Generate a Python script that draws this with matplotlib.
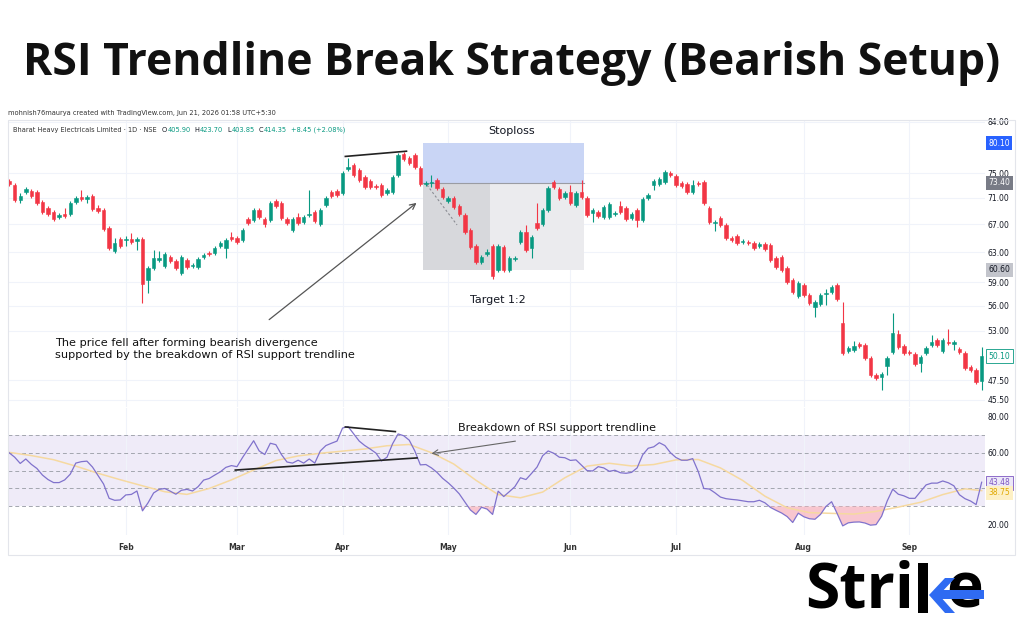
import numpy as np
import matplotlib.pyplot as plt
from matplotlib.patches import Rectangle, Polygon

# ---- price candles (Jan .. Sep) ----
opens = [73.69, 73.04, 70.67, 71.93, 72.08, 71.93, 70.36, 69.44, 68.83, 68.08,
         68.53, 68.53, 70.36, 71.14, 70.83, 71.29, 69.44, 69.13, 66.45, 63.16,
         64.86, 64.71, 64.86, 64.57, 64.86, 59.26, 60.85, 61.93, 61.12, 62.34,
         61.79, 60.18, 61.93, 61.12, 60.98, 62.34, 62.89, 62.89, 63.87, 63.59,
         65.14, 65.00, 64.71, 67.78, 67.63, 69.13, 67.78, 67.63, 70.52, 70.21,
         67.78, 66.15, 68.08, 67.33, 68.38, 68.83, 67.04, 69.90, 71.93, 72.08,
         71.77, 75.67, 76.33, 75.50, 74.34, 73.69, 72.88, 73.04, 71.77, 71.93,
         74.67, 78.20, 77.52, 78.03, 75.83, 73.20, 73.37, 73.85, 72.40, 70.52,
         70.98, 69.75, 68.38, 66.15, 63.87, 61.66, 62.75, 63.87, 60.58, 63.73,
         60.58, 62.07, 64.43, 65.86, 63.59, 67.19, 67.04, 69.13, 73.53, 72.40,
         71.14, 71.93, 69.90, 71.93, 70.98, 68.68, 68.83, 68.08, 68.08, 68.53,
         69.75, 69.44, 67.93, 69.13, 67.63, 70.98, 73.04, 73.20, 73.53, 75.00,
         74.51, 73.37, 73.20, 71.93, 73.37, 73.53, 69.44, 67.19, 67.93, 66.89,
         65.00, 65.29, 64.43, 64.43, 64.29, 63.87, 64.15, 64.01, 62.20, 62.34,
         60.85, 59.26, 57.20, 58.61, 57.33, 55.84, 56.20, 57.46, 57.71, 58.61,
         53.91, 50.68, 50.79, 51.46, 51.35, 49.91, 48.07, 47.86, 49.03, 50.57,
         52.62, 51.24, 50.57, 50.35, 49.36, 50.46, 51.35, 51.92, 50.68, 51.69,
         51.46, 50.90, 50.46, 48.92, 48.60, 47.45]
highs = [74.01, 73.37, 71.77, 72.72, 72.40, 72.24, 70.67, 69.75, 69.13, 68.68,
         69.44, 70.52, 71.29, 72.24, 71.45, 71.61, 69.90, 69.44, 66.74, 65.00,
         65.14, 65.29, 65.72, 65.14, 65.14, 61.12, 63.30, 63.16, 63.03, 62.61,
         62.07, 62.61, 62.20, 61.52, 62.34, 62.89, 63.16, 63.87, 64.57, 65.00,
         65.86, 65.29, 66.45, 68.08, 69.44, 69.44, 68.08, 70.52, 70.83, 70.52,
         68.08, 68.08, 68.68, 68.38, 72.24, 69.13, 69.44, 71.29, 72.24, 72.40,
         75.33, 77.52, 76.67, 75.83, 74.67, 74.01, 73.20, 73.37, 72.56, 74.67,
         78.38, 78.55, 77.86, 78.38, 76.16, 73.69, 74.67, 74.18, 72.72, 71.29,
         71.29, 70.05, 68.68, 66.45, 64.15, 62.61, 63.44, 64.15, 64.15, 64.01,
         62.47, 62.47, 66.15, 66.89, 65.43, 70.21, 69.44, 72.88, 73.85, 72.72,
         72.08, 73.04, 72.08, 73.85, 71.29, 69.44, 69.13, 69.90, 70.36, 68.98,
         70.52, 69.75, 68.83, 69.44, 71.14, 71.77, 74.01, 74.34, 75.50, 75.33,
         74.84, 73.69, 73.53, 73.85, 73.69, 73.85, 69.75, 67.63, 68.23, 67.19,
         65.29, 65.57, 64.86, 64.71, 64.57, 64.43, 64.43, 64.29, 62.47, 62.61,
         61.12, 59.52, 59.13, 58.87, 57.59, 56.70, 57.59, 58.10, 58.61, 58.87,
         56.45, 51.24, 51.81, 51.69, 51.58, 50.13, 48.28, 48.39, 50.13, 55.10,
         53.08, 51.46, 50.79, 50.57, 50.24, 51.24, 52.50, 52.15, 52.15, 53.20,
         51.92, 51.13, 50.68, 49.14, 48.82, 51.13]
lows = [72.88, 70.36, 70.21, 71.61, 70.98, 69.90, 68.53, 68.23, 67.48, 67.78,
        67.93, 68.23, 70.05, 70.52, 70.21, 68.98, 68.68, 66.01, 63.30, 62.89,
        63.59, 63.87, 64.15, 63.30, 56.33, 57.59, 60.58, 61.66, 60.85, 61.52,
        60.58, 59.91, 60.71, 60.85, 60.71, 62.07, 62.47, 62.61, 63.59, 62.20,
        64.57, 64.15, 64.43, 66.89, 67.33, 67.78, 66.59, 67.33, 69.44, 67.63,
        66.89, 65.86, 66.89, 67.04, 68.08, 67.19, 66.74, 69.59, 70.98, 71.14,
        71.45, 75.33, 74.34, 73.53, 72.40, 72.40, 72.40, 71.14, 71.45, 71.61,
        74.34, 77.01, 76.33, 75.67, 72.88, 72.88, 72.72, 72.24, 70.83, 70.21,
        69.28, 68.23, 65.57, 63.44, 61.39, 61.39, 62.47, 59.39, 60.31, 60.31,
        60.31, 61.79, 64.15, 63.03, 62.20, 66.15, 66.74, 68.83, 72.40, 70.67,
        70.83, 69.90, 69.59, 70.83, 68.08, 67.33, 67.93, 67.78, 67.78, 68.23,
        68.53, 67.48, 67.63, 66.59, 67.33, 70.67, 72.24, 72.88, 73.20, 74.34,
        72.72, 72.56, 71.61, 71.61, 72.88, 69.90, 67.04, 66.01, 66.59, 64.71,
        64.43, 64.01, 64.15, 64.01, 63.30, 63.59, 63.16, 61.66, 60.71, 60.31,
        58.74, 57.46, 56.95, 57.08, 56.08, 54.62, 55.96, 56.08, 57.46, 56.58,
        50.24, 50.46, 50.57, 51.02, 49.69, 47.86, 47.55, 46.51, 48.07, 50.35,
        50.90, 50.24, 50.24, 49.03, 48.39, 50.24, 51.13, 51.13, 50.46, 51.35,
        50.79, 50.35, 48.60, 48.39, 47.13, 46.51]
closes = [73.20, 70.67, 71.29, 72.40, 71.29, 70.21, 68.83, 68.53, 67.78, 68.38,
          68.23, 70.21, 70.98, 70.83, 71.14, 69.28, 68.98, 66.30, 63.59, 64.29,
          63.87, 64.86, 64.43, 64.86, 58.74, 60.85, 62.20, 62.20, 62.75, 61.79,
          60.85, 62.34, 60.98, 61.25, 62.07, 62.61, 62.75, 63.59, 64.29, 64.71,
          64.86, 64.43, 66.15, 67.19, 69.13, 68.08, 67.04, 70.21, 69.75, 67.93,
          67.19, 67.78, 67.19, 68.08, 68.53, 67.48, 69.13, 70.98, 71.29, 71.45,
          75.00, 76.00, 74.67, 73.85, 72.72, 72.72, 72.72, 71.45, 72.24, 74.34,
          78.03, 77.35, 76.67, 76.00, 73.20, 73.37, 73.53, 72.56, 71.14, 70.98,
          69.59, 68.53, 65.86, 63.73, 61.66, 62.34, 63.03, 59.78, 63.87, 60.58,
          62.20, 62.20, 65.86, 63.30, 65.14, 66.45, 69.13, 72.56, 72.72, 70.98,
          71.77, 70.21, 71.77, 71.14, 68.38, 69.13, 68.23, 69.59, 70.05, 68.68,
          68.83, 67.78, 68.53, 67.63, 70.83, 71.45, 73.69, 74.01, 75.17, 74.67,
          73.04, 72.88, 71.93, 73.04, 73.20, 70.21, 67.33, 67.33, 66.89, 65.00,
          64.71, 64.29, 64.57, 64.29, 63.59, 64.15, 63.44, 61.93, 60.98, 60.58,
          59.00, 57.71, 58.87, 57.33, 56.33, 56.45, 57.33, 57.59, 58.36, 56.83,
          50.46, 51.02, 51.24, 51.24, 49.91, 48.07, 47.76, 48.18, 49.91, 52.73,
          51.13, 50.46, 50.46, 49.25, 50.02, 51.02, 51.69, 51.35, 51.92, 51.58,
          51.69, 50.57, 48.82, 48.60, 47.34, 50.10]

# ---- RSI (14) and its moving average ----
rsi = [60, 57.5, 54, 56.5, 53.5, 51.2, 47.5, 45, 43.3, 43.3,
       44.8, 48, 54.2, 55, 55.3, 52, 47.3, 42.5, 34.5, 33.4,
       33.6, 36.4, 36.7, 38.6, 27.5, 32, 37.5, 39.5, 40, 38.5,
       36.8, 39, 39.5, 38.6, 41, 44.7, 45.6, 47.5, 49.3, 51.8,
       52.8, 52.2, 57.3, 62, 66.7, 61, 59, 65.3, 64.5, 59,
       54.8, 54.2, 55.8, 54.2, 56.5, 54.2, 61, 64, 65.3, 66.5,
       73.8, 74.6, 70.5, 66.5, 64, 62, 59.8, 55.4, 57.5, 65,
       70.5, 69.5, 67, 61, 53.2, 53.4, 51.5, 49, 45.7, 43.2,
       40.3, 37, 32.5, 28, 25.5, 29.5, 28.5, 25.5, 38.5, 35.5,
       38.2, 41, 46, 45, 48.4, 52, 58.3, 61, 59.7, 57.5,
       57.2, 55.7, 56, 53, 50, 49.8, 52.2, 51.5, 49.6, 50.2,
       48.8, 48.5, 49, 51.5, 58.8, 62.5, 63.3, 65.6, 64, 60,
       57.3, 55.8, 55.8, 56.7, 49.5, 40, 39.7, 37.6, 35.2, 34.3,
       33.9, 33.6, 33.1, 32.6, 32.6, 33.4, 32, 29.4, 27.8, 26.3,
       24.3, 21, 26.2, 24.2, 23.1, 22.8, 25.5, 30, 32.6, 26,
       19.1, 20.8, 21.2, 21.3, 20.7, 19.5, 19.8, 24.5, 33, 39.6,
       36.8, 35.9, 34.5, 34.5, 38.3, 42, 43, 43, 44.2, 43.2,
       41.5, 36.5, 34.3, 33, 31, 43.5]
ma_pos = [0, 4, 8, 12, 16, 20, 24, 28, 32, 36, 40, 44, 48, 52, 56, 60, 64, 68,
          72, 76, 80, 84, 88, 92, 96, 100, 104, 108, 112, 116, 120, 124, 128,
          132, 136, 140, 144, 148, 152, 156, 160, 164, 168, 172, 175]
ma = [60.2, 58.4, 56.1, 52.5, 48.5, 44.9, 41.5, 38.2, 36.7, 40, 44.8, 50.3,
      55.6, 58.2, 59.7, 60.9, 62.1, 63.9, 64.6, 60, 53.7, 44.6, 36.6, 34.8,
      38, 46, 52.5, 54.1, 52.6, 53.4, 56, 56.2, 51.5, 44.5, 35.7, 29.2, 26.5,
      26.1, 25.7, 27.2, 29.6, 32.3, 36.6, 39.8, 38.8]

months = ['Feb', 'Mar', 'Apr', 'May', 'Jun', 'Jul', 'Aug', 'Sep']
month_pos = [21, 41, 60, 79, 101, 120, 143, 162]
price_ticks = [84, 75, 71, 67, 63, 59, 56, 53, 47.5, 45.5]
rsi_ticks = [80, 60, 20]

W, H = 1024, 640
UP, DN = '#089981', '#f23645'
TXT = '#131722'


def fx(px):
    return px / W


def fy(py):
    return 1 - py / H


fig = plt.figure(figsize=(10.24, 6.4), dpi=100)
fig.patch.set_facecolor('white')
renderer = fig.canvas.get_renderer()

# title
fig.text(0.5, fy(63), 'RSI Trendline Break Strategy (Bearish Setup)', ha='center',
         va='center', fontsize=32, fontweight='bold', family='Open Sans', color='#111111')

# chart frame
fig.add_artist(Rectangle((fx(8), fy(555)), fx(1015) - fx(8), fy(120) - fy(555),
                         transform=fig.transFigure, fill=False, ec='#e3e5eb', lw=0.8))

# header lines
fig.text(fx(8), fy(113), 'mohnish76maurya created with TradingView.com, Jun 21, 2026 01:58 UTC+5:30',
         fontsize=4.8, color='#333333', va='center')
header = [('Bharat Heavy Electricals Limited \u00b7 1D \u00b7 NSE', '#333333', 5),
          ('O', TXT, 0.5), ('405.90', UP, 4), ('H', TXT, 0.5), ('423.70', UP, 4),
          ('L', TXT, 0.5), ('403.85', UP, 4), ('C', TXT, 0.5), ('414.35', UP, 4),
          ('+8.45 (+2.08%)', UP, 0)]
cur = 13
for s, col, gap in header:
    t = fig.text(fx(cur), fy(130), s, fontsize=4.8, color=col, va='center')
    cur = t.get_window_extent(renderer).x1 + gap

# ---- price pane ----
ax = fig.add_axes([fx(8), fy(407), fx(985) - fx(8), fy(120) - fy(407)])
ax.set_yscale('log')
ax.set_ylim(44.8, 84.3)
ax.set_xlim(-0.2, 175.6)

o = np.array(opens)
h = np.array(highs)
l = np.array(lows)
c = np.array(closes)
x = np.arange(len(c))
cols = np.where(c >= o, UP, DN)

# position tool boxes (stop above, target below entry)
ax.fill_between([74.5, 103.4], 73.4, 80.1, color='#c9d5f5', lw=0, zorder=1)
ax.fill_between([74.5, 86.6], 60.6, 73.4, color='#d7d8dc', lw=0, zorder=1)
ax.fill_between([86.6, 103.4], 60.6, 73.4, color='#ebebee', lw=0, zorder=1)
ax.plot([74.5, 103.4], [73.4, 73.4], color='#9a9ca3', lw=0.8, zorder=1.5)
ax.plot([75.2, 80.6], [73.05, 66.9], color='#8a8c93', lw=0.8, ls=(0, (2, 2)), zorder=1.5)

ax.vlines(x, l, h, colors=cols, lw=0.8, zorder=2)
ax.bar(x, np.abs(c - o), bottom=np.minimum(o, c), width=0.62, color=cols,
       edgecolor=cols, linewidth=0.4, zorder=3)

# bearish divergence line on price highs
ax.plot([60.5, 71.5], [77.8, 78.7], color='#222222', lw=1.2, zorder=4)
ax.annotate('', xy=(73.7, 70.5), xytext=(46.4, 54.1),
            arrowprops=dict(arrowstyle='->', color='#555555', lw=0.9), zorder=4)

ax.set_yticks(price_ticks)
ax.set_yticklabels(['%.2f' % v for v in price_ticks])
ax.yaxis.set_minor_locator(plt.NullLocator())
ax.yaxis.set_minor_formatter(plt.NullFormatter())
ax.yaxis.tick_right()
ax.set_xticks(month_pos)
ax.set_xticklabels([])
ax.tick_params(length=0, labelsize=5.5, labelcolor=TXT, pad=2)
ax.grid(True, color='#f0f3fa', lw=0.8)
ax.set_axisbelow(True)
for s in ax.spines.values():
    s.set_visible(False)


def price_tag(a, val, txt, fc, tc, ec='none'):
    a.annotate(txt, xy=(1, val), xycoords=('axes fraction', 'data'), xytext=(2.5, 0),
               textcoords='offset points', ha='left', va='center', fontsize=5.5, color=tc,
               bbox=dict(boxstyle='square,pad=0.3', fc=fc, ec=ec, lw=0.6), annotation_clip=False)


price_tag(ax, 80.1, '80.10', '#2962ff', 'white')
price_tag(ax, 73.4, '73.40', '#787b86', 'white')
price_tag(ax, 60.6, '60.60', '#c3c5cc', TXT)
price_tag(ax, 50.1, '50.10', 'white', UP, ec=UP)

fig.text(fx(512), fy(131), 'Stoploss', ha='center', va='center', fontsize=8, color=TXT)
fig.text(fx(498), fy(300), 'Target 1:2', ha='center', va='center', fontsize=8, color=TXT)
fig.text(fx(55), fy(349), 'The price fell after forming bearish divergence\n'
         'supported by the breakdown of RSI support trendline',
         ha='left', va='center', fontsize=8.1, color='#111111', linespacing=1.15)

# ---- RSI pane ----
ax2 = fig.add_axes([fx(8), fy(535), fx(985) - fx(8), fy(408) - fy(535)])
ax2.set_xlim(-0.2, 175.6)
ax2.set_ylim(14, 85)
ax2.axhspan(30, 70, color='#efebf8', lw=0, zorder=0)
for lv in [70, 60, 50, 40, 30]:
    ax2.axhline(lv, color='#a3a6af', lw=0.7, ls=(0, (4, 3)), zorder=1)

r = np.array(rsi)
ax2.fill_between(x, r, 30, where=r < 30, interpolate=True, color='#f6b3c0', alpha=0.75, lw=0, zorder=1.5)
ax2.plot(ma_pos, ma, color='#f6d9a0', lw=1.1, zorder=2)
ax2.plot(x, r, color='#8072cc', lw=0.9, zorder=3)

# RSI trendlines
ax2.plot([40.7, 73.4], [50.3, 57.1], color='#222222', lw=1.2, zorder=4)
ax2.plot([60.5, 69.5], [74.4, 71.8], color='#222222', lw=1.2, zorder=4)
ax2.annotate('', xy=(75.5, 59.3), xytext=(91.6, 66.7),
             arrowprops=dict(arrowstyle='->', color='#666666', lw=0.8), zorder=4)
fig.text(fx(458), fy(428), 'Breakdown of RSI support trendline', ha='left', va='center',
         fontsize=8.0, color='#111111')

ax2.set_yticks(rsi_ticks)
ax2.set_yticklabels(['%.2f' % v for v in rsi_ticks])
ax2.yaxis.tick_right()
ax2.set_xticks(month_pos)
ax2.set_xticklabels(months, fontweight='bold')
ax2.tick_params(axis='y', length=0, labelsize=5.5, labelcolor=TXT, pad=2)
ax2.tick_params(axis='x', length=0, labelsize=5.5, labelcolor='#333333', pad=6)
ax2.grid(True, axis='x', color='#f0f3fa', lw=0.8)
ax2.set_axisbelow(True)
for s in ax2.spines.values():
    s.set_visible(False)

price_tag(ax2, 43.1, '43.48', '#ece8f8', '#7e57c2', ec='#7e57c2')
price_tag(ax2, 37.6, '38.75', '#fdf0c5', '#e0a800')

# ---- Strike logo ----
logo = fig.text(fx(805), fy(591), 'Stri', ha='left', va='center', fontsize=45,
                fontweight='bold', family='Open Sans', color='black')
kx = logo.get_window_extent(renderer).x1 + 4  # pixel position of the k stem
fig.add_artist(Rectangle((fx(kx), fy(613)), fx(10), fy(563) - fy(613),
                         transform=fig.transFigure, color='black', lw=0, zorder=5))
fig.text(fx(kx + 28), fy(591), 'e', ha='left', va='center', fontsize=45,
         fontweight='bold', family='Open Sans', color='black', zorder=5)
blue = '#2f6bf2'
fig.add_artist(Polygon([(fx(kx + 11), fy(595)), (fx(kx + 27), fy(578)), (fx(kx + 37), fy(578)),
                        (fx(kx + 21), fy(595)), (fx(kx + 37), fy(613)), (fx(kx + 27), fy(613))],
                       closed=True, transform=fig.transFigure, color=blue, lw=0, zorder=6))
fig.add_artist(Rectangle((fx(kx + 16), fy(599)), fx(kx + 66) - fx(kx + 16), fy(590) - fy(599),
                         transform=fig.transFigure, color=blue, lw=0, zorder=6))

fig.savefig('out.png', dpi=100)
